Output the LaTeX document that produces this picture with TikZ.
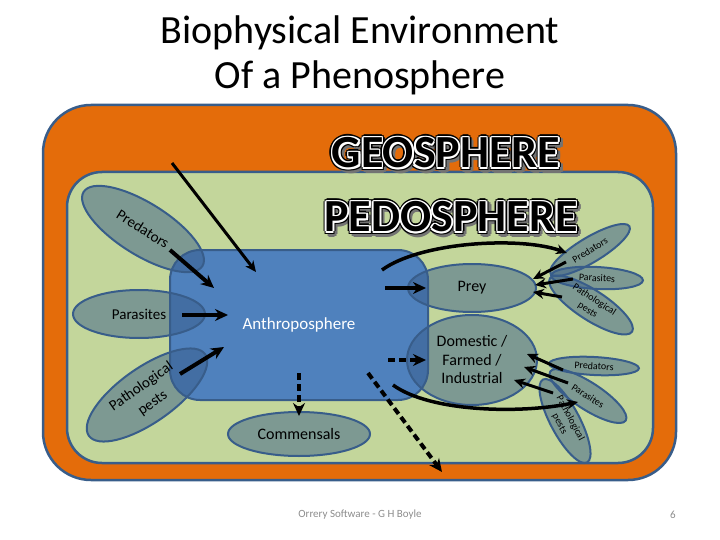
\documentclass[tikz,border=0pt]{standalone}
\usepackage{fontspec}
\setmainfont{Carlito}
\usetikzlibrary{arrows.meta,shapes.geometric,calc}

\definecolor{geoorange}{HTML}{E46C0A}
\definecolor{pedogreen}{HTML}{C3D69B}
\definecolor{anthroblue}{HTML}{4F81BD}
\definecolor{rimblue}{HTML}{385D8A}
\definecolor{footgray}{HTML}{8C8C8C}

\newcommand{\sz}[2]{\fontsize{#1}{#2}\selectfont}

\tikzset{
  zone/.style={rectangle, draw=rimblue, line width=2.5pt},
  petal/.style={ellipse, draw=rimblue, line width=2pt, fill=rimblue,
    fill opacity=0.5, draw opacity=1, text opacity=1, inner sep=0pt, align=center},
  big/.style={font=\sz{16}{18.5}},
  mid/.style={font=\sz{15}{20}},
  small/.style={font=\sz{10}{12}},
  rimword/.style={inner sep=0pt, font=\bfseries\sz{46}{50}},
  flow/.style={-{Stealth[length=13pt,width=12pt]}, line width=4pt},
  thinflow/.style={-{Stealth[length=11pt,width=10pt]}, line width=3pt},
  maybe/.style={flow, dash pattern=on 7pt off 4pt},
}

\begin{document}
\begin{tikzpicture}[x=1pt,y=-1pt]
\useasboundingbox (0,0) rectangle (720,540);

% title
\node[font=\sz{40}{45}] (title1) at (360,33) {Biophysical Environment};
\node[font=\sz{40}{45}] (title2) at (360,78) {Of a Phenosphere};

% spheres
\node[zone, fill=geoorange, rounded corners=48pt, minimum width=633pt, minimum height=375pt] (geo) at (359.5,292.5) {};
\node[zone, fill=pedogreen, rounded corners=35pt, minimum width=586pt, minimum height=291pt] (pedo) at (360,317.5) {};

% sphere names: black letters, white rim, shadow
\foreach \word/\wx/\wy in {GEOSPHERE/446/153, PEDOSPHERE/451/217}{
  \foreach \ang in {0,45,...,315}
    \node[rimword, text=black!55] (\word s\ang) at ($(\wx+2.5,\wy+2.5)+(\ang:2.8)$) {\word};
  \foreach \ang in {0,45,...,315}
    \node[rimword, text=black] (\word o\ang) at ($(\wx,\wy)+(\ang:3)$) {\word};
  \foreach \ang in {0,45,...,315}
    \node[rimword, text=white] (\word w\ang) at ($(\wx,\wy)+(\ang:1.7)$) {\word};
  \node[rimword, text=black] (\word) at (\wx,\wy) {\word};
}

% anthroposphere
\node[zone, fill=anthroblue, line width=2pt, rounded corners=30pt, minimum width=258pt, minimum height=150pt,
  text=white, font=\sz{17}{20}] (anthro) at (299,325) {Anthroposphere};

% left petals
\node[petal, mid, minimum width=140pt, minimum height=52pt, rotate=-32] (predL) at (143,229) {Predators};
\node[petal, mid, minimum width=132pt, minimum height=48pt] (parL) at (139,314) {Parasites};
\node[petal, mid, minimum width=142pt, minimum height=55pt, rotate=35] (pathL) at (147,395) {Pathological\\pests};

% organisms
\node[petal, big, minimum width=128pt, minimum height=48pt] (prey) at (472,288) {Prey};
\node[petal, big, minimum width=130pt, minimum height=90pt] (domestic) at (472,360) {Domestic /\\Farmed /\\Industrial};
\node[petal, big, minimum width=142pt, minimum height=44pt] (commensals) at (299,434) {Commensals};

% right petals, prey
\node[petal, small, minimum width=92pt, minimum height=25pt, rotate=31] (predR1) at (590,250) {Predators};
\node[petal, small, minimum width=92pt, minimum height=22pt, rotate=-3] (parR1) at (597,278) {Parasites};
\node[petal, small, minimum width=98pt, minimum height=30pt, rotate=-33] (pathR1) at (591,305) {Pathological\\pests};

% right petals, domestic
\node[petal, small, minimum width=90pt, minimum height=18pt, rotate=-3] (predR2) at (594,366) {Predators};
\node[petal, small, minimum width=90pt, minimum height=27pt, rotate=-33] (parR2) at (588,396) {Parasites};
\node[petal, small, minimum width=94pt, minimum height=28pt, rotate=-62] (pathR2) at (565,421) {Pathological\\pests};

% arrow ends
\coordinate (topTail) at (172,163);   \coordinate (topHead) at (256,272);
\coordinate (predLtail) at (170,250); \coordinate (predLhead) at (214,288);
\coordinate (parLtail) at (182,315);  \coordinate (parLhead) at (228,315);
\coordinate (pathLtail) at (180,374); \coordinate (pathLhead) at (224,347);
\coordinate (preyTail) at (385,288);  \coordinate (preyHead) at (426,288);
\coordinate (domTail) at (388,360);   \coordinate (domHead) at (426,360);
\coordinate (commTail) at (299,373);  \coordinate (commHead) at (299,416);
\coordinate (outTail) at (368,373);   \coordinate (outHead) at (442,472);
\coordinate (upTail) at (382,270);    \coordinate (upHead) at (567,253);
\coordinate (downTail) at (393,385);  \coordinate (downHead) at (578,402);

% arrows into the anthroposphere
\draw[thinflow] (topTail) -- (topHead);
\draw[flow] (predLtail) -- (predLhead);
\draw[flow] (parLtail) -- (parLhead);
\draw[flow] (pathLtail) -- (pathLhead);

% arrows out of it
\draw[flow] (preyTail) -- (preyHead);
\draw[maybe] (domTail) -- (domHead);
\draw[maybe] (commTail) -- (commHead);
\draw[maybe] (outTail) -- (outHead);
\draw[thinflow, line width=3.5pt] (upTail) .. controls (420,242) and (520,236) .. (upHead);
\draw[thinflow, line width=3.5pt] (downTail) .. controls (430,412) and (520,414) .. (downHead);

% attacks on prey and domestic
\coordinate (r1a) at (566,262); \coordinate (p1a) at (533,279);
\coordinate (r1b) at (573,279); \coordinate (p1b) at (535,285);
\coordinate (r1c) at (562,297); \coordinate (p1c) at (533,292);
\coordinate (r2a) at (563,370); \coordinate (p2a) at (527,354);
\coordinate (r2b) at (568,383); \coordinate (p2b) at (524,367);
\coordinate (r2c) at (553,393); \coordinate (p2c) at (514,380);
\foreach \s/\t in {r1a/p1a, r1b/p1b, r1c/p1c, r2a/p2a, r2b/p2b, r2c/p2c}
  \draw[thinflow] (\s) -- (\t);

% footer
\node[text=footgray, font=\sz{11}{13}] (foot) at (360,515) {Orrery Software - G H Boyle};
\node[text=footgray, font=\sz{11}{13}] (pageno) at (673,515) {6};
\end{tikzpicture}
\end{document}
